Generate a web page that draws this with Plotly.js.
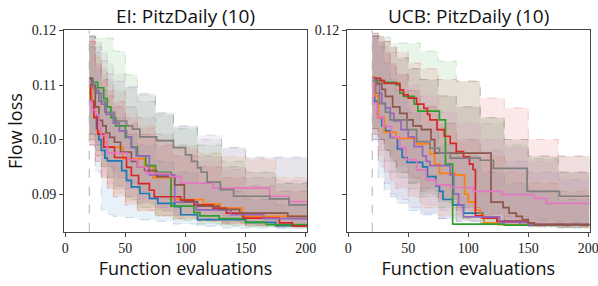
<!DOCTYPE html>
<html><head><meta charset="utf-8">
<script src="https://cdn.plot.ly/plotly-3.0.1.min.js"></script>
<style>html,body{margin:0;padding:0;background:#fff}#chart{width:598px;height:286px}</style>
</head><body><div id="chart"></div>
<script>
// ---- data ----
const seriesNames = ['blue','orange','green','red','purple','brown','pink','gray'];
const seriesColors = ['31,119,180','255,127,14','44,160,44','214,39,40','148,103,189','140,86,75','227,119,194','127,127,127'];
const xTicks = [0,50,100,150,200];
const yTicks = [0.09,0.10,0.11,0.12];
const initSamples = 20;
const bandX = [20,25,30,35,40,50,60,75,90,110,130,150,175,201];

// EI medians
const eiX_blue = [20,22,24,26,28,30,33,35,47,51,55,62,70,77,91,96,110,150,175,201];
const eiY_blue = [0.1085,0.107,0.1045,0.102,0.100,0.098,0.0966,0.0961,0.0943,0.0925,0.0913,0.0901,0.0892,0.0883,0.0877,0.0862,0.0853,0.0848,0.0842,0.0842];
const eiX_orange = [20,22,25,28,32,35,48,66,73,88,115,129,147,201];
const eiY_orange = [0.1095,0.107,0.104,0.101,0.0995,0.0986,0.0965,0.095,0.093,0.089,0.0882,0.0874,0.0859,0.0859];
const eiX_green = [20,23,27,32,35,38,42,50,55,60,67,75,88,107,112,128,150,167,201];
const eiY_green = [0.1112,0.1105,0.1095,0.1075,0.106,0.104,0.1025,0.1004,0.0986,0.097,0.0952,0.094,0.0878,0.0866,0.086,0.0855,0.0848,0.0844,0.0844];
const eiX_red = [20,21,24,27,32,41,51,55,61,70,74,96,107,123,134,148,178,189,201];
const eiY_red = [0.110,0.107,0.104,0.101,0.0986,0.0967,0.0949,0.0934,0.0919,0.0907,0.0895,0.0889,0.088,0.0874,0.0865,0.0856,0.0847,0.0841,0.0841];
const eiX_purple = [20,23,26,30,34,40,45,51,55,59,70,91,109,138,165,201];
const eiY_purple = [0.111,0.1095,0.1085,0.1065,0.1046,0.103,0.1016,0.1005,0.0985,0.097,0.0935,0.0885,0.0871,0.0862,0.0855,0.0855];
const eiX_brown = [20,22,25,28,31,34,37,41,46,55,60,66,76,91,99,110,128,145,185,201];
const eiY_brown = [0.1112,0.110,0.106,0.1035,0.1025,0.1012,0.1004,0.0995,0.0977,0.096,0.095,0.0943,0.0932,0.0917,0.0886,0.0878,0.0872,0.0865,0.0859,0.0859];
const eiX_pink = [20,22,25,28,30,35,52,60,67,87,96,123,170,186,201];
const eiY_pink = [0.107,0.1055,0.1046,0.102,0.1007,0.0975,0.0963,0.095,0.0938,0.0932,0.092,0.0911,0.0896,0.0886,0.0886];
const eiX_gray = [20,24,28,33,41,51,56,62,76,90,100,105,110,113,118,129,140,170,186,201];
const eiY_gray = [0.1105,0.109,0.107,0.105,0.1034,0.1025,0.1019,0.1005,0.0998,0.0985,0.0972,0.096,0.0948,0.094,0.0922,0.0908,0.0896,0.0891,0.088,0.088];

// EI bands (on bandX)
const eiLo_blue = [0.099,0.094,0.0871,0.0862,0.0859,0.0857,0.0853,0.0850,0.0845,0.0841,0.0838,0.0838,0.0837,0.0837];
const eiHi_blue = [0.117,0.113,0.109,0.106,0.104,0.101,0.099,0.096,0.094,0.092,0.0905,0.089,0.088,0.0875];
const eiLo_orange = [0.100,0.097,0.093,0.091,0.090,0.0885,0.087,0.086,0.0855,0.085,0.0845,0.0842,0.084,0.0838];
const eiHi_orange = [0.118,0.115,0.112,0.109,0.107,0.104,0.1025,0.100,0.0985,0.0975,0.0968,0.0963,0.093,0.093];
const eiLo_green = [0.101,0.098,0.095,0.093,0.091,0.089,0.0875,0.086,0.0852,0.0845,0.0842,0.084,0.0838,0.0836];
const eiHi_green = [0.1188,0.1186,0.1186,0.1186,0.1162,0.1119,0.1082,0.1049,0.1020,0.0990,0.0960,0.094,0.092,0.091];
const eiLo_red = [0.099,0.096,0.093,0.091,0.0895,0.088,0.087,0.086,0.0855,0.085,0.0845,0.0842,0.084,0.0838];
const eiHi_red = [0.118,0.114,0.111,0.108,0.106,0.103,0.101,0.099,0.097,0.095,0.093,0.0915,0.0905,0.090];
const eiLo_purple = [0.101,0.099,0.097,0.095,0.093,0.091,0.089,0.0875,0.0862,0.0855,0.085,0.0845,0.0842,0.084];
const eiHi_purple = [0.119,0.117,0.1145,0.112,0.1107,0.1097,0.1085,0.1048,0.1024,0.1008,0.0985,0.0966,0.0966,0.0966];
const eiLo_brown = [0.100,0.097,0.095,0.093,0.0915,0.0895,0.0882,0.087,0.086,0.0852,0.0847,0.0843,0.0841,0.0839];
const eiHi_brown = [0.119,0.116,0.113,0.111,0.109,0.106,0.104,0.101,0.099,0.097,0.095,0.093,0.092,0.0915];
const eiLo_pink = [0.099,0.096,0.0935,0.092,0.091,0.0895,0.0885,0.0875,0.0868,0.086,0.0855,0.085,0.0848,0.0845];
const eiHi_pink = [0.118,0.114,0.111,0.109,0.107,0.104,0.102,0.100,0.098,0.096,0.0945,0.094,0.0925,0.092];
const eiLo_gray = [0.101,0.099,0.097,0.095,0.094,0.092,0.0905,0.089,0.088,0.087,0.086,0.0855,0.085,0.0848];
const eiHi_gray = [0.119,0.118,0.116,0.114,0.112,0.1095,0.107,0.1045,0.1025,0.100,0.0985,0.0968,0.0968,0.0968];

// UCB medians
const ucbX_blue = [20,22,25,28,31,35,41,45,49,62,66,73,76,79,87,96,112,124,143,201];
const ucbY_blue = [0.111,0.107,0.104,0.1025,0.1016,0.1004,0.0983,0.0967,0.0958,0.095,0.0932,0.0915,0.0905,0.089,0.088,0.0865,0.0856,0.085,0.0844,0.0844];
const ucbX_orange = [20,22,25,30,40,57,68,72,76,89,97,100,106,110,113,125,201];
const ucbY_orange = [0.1115,0.108,0.104,0.1013,0.1002,0.0992,0.0973,0.0955,0.0938,0.0935,0.090,0.0885,0.087,0.0862,0.0847,0.0844,0.0844];
const ucbX_green = [20,22,30,40,43,46,55,58,76,81,87,130,201];
const ucbY_green = [0.1112,0.1108,0.1105,0.110,0.1085,0.1079,0.1065,0.1052,0.1036,0.0955,0.0845,0.0843,0.0843];
const ucbX_red = [20,27,30,43,46,50,57,63,66,68,74,80,85,90,96,101,104,106,112,124,150,201];
const ucbY_red = [0.1112,0.1108,0.1103,0.1091,0.1082,0.1076,0.1065,0.1057,0.1046,0.1036,0.1018,0.1006,0.0993,0.0978,0.0968,0.0955,0.0945,0.086,0.0856,0.085,0.0844,0.0844];
const ucbX_purple = [20,23,26,28,31,35,38,44,50,55,62,65,68,85,88,92,96,126,150,201];
const ucbY_purple = [0.1112,0.110,0.1085,0.1067,0.1058,0.1048,0.1034,0.1018,0.1005,0.0987,0.097,0.096,0.0952,0.0935,0.090,0.088,0.0858,0.0848,0.0844,0.0844];
const ucbX_brown = [20,24,28,31,37,43,49,54,61,69,72,119,129,134,140,145,150,155,201];
const ucbY_brown = [0.1112,0.1103,0.1092,0.1079,0.106,0.1048,0.1036,0.1025,0.1018,0.100,0.0975,0.0885,0.0875,0.0865,0.0859,0.0853,0.0847,0.0844,0.0844];
const ucbX_pink = [20,21,24,29,36,43,48,57,65,73,85,104,128,155,165,201];
const ucbY_pink = [0.1112,0.1066,0.1042,0.1024,0.1005,0.0985,0.0963,0.0944,0.0926,0.0917,0.0912,0.0905,0.0899,0.0892,0.0883,0.0883];
const ucbX_gray = [20,23,26,31,35,49,57,68,76,85,110,121,149,176,201];
const ucbY_gray = [0.1108,0.1085,0.1066,0.105,0.1036,0.1018,0.0996,0.0984,0.0975,0.0966,0.0962,0.0947,0.0905,0.0896,0.0896];

// UCB bands (on bandX)
const ucbLo_blue = [0.100,0.093,0.0907,0.0895,0.0883,0.087,0.0862,0.0855,0.085,0.0845,0.0842,0.084,0.0838,0.0837];
const ucbHi_blue = [0.119,0.117,0.114,0.111,0.109,0.105,0.102,0.099,0.097,0.094,0.092,0.0905,0.089,0.0885];
const ucbLo_orange = [0.101,0.096,0.094,0.0925,0.091,0.0895,0.0875,0.086,0.0852,0.0845,0.0842,0.084,0.0838,0.0837];
const ucbHi_orange = [0.119,0.118,0.116,0.114,0.112,0.109,0.106,0.103,0.100,0.097,0.094,0.092,0.0905,0.090];
const ucbLo_green = [0.102,0.100,0.098,0.096,0.094,0.092,0.090,0.0875,0.0855,0.0845,0.0842,0.084,0.0838,0.0837];
const ucbHi_green = [0.1195,0.119,0.1188,0.1177,0.1177,0.1177,0.1162,0.1144,0.1107,0.104,0.099,0.0965,0.094,0.093];
const ucbLo_red = [0.102,0.100,0.098,0.0965,0.095,0.093,0.091,0.089,0.087,0.0855,0.0848,0.0843,0.084,0.0838];
const ucbHi_red = [0.1195,0.119,0.118,0.117,0.116,0.114,0.113,0.111,0.1107,0.1076,0.1058,0.100,0.097,0.095];
const ucbLo_purple = [0.100,0.095,0.092,0.090,0.089,0.0875,0.0865,0.0855,0.085,0.0845,0.0842,0.084,0.0838,0.0837];
const ucbHi_purple = [0.119,0.118,0.116,0.114,0.112,0.109,0.106,0.103,0.100,0.098,0.096,0.094,0.0926,0.0926];
const ucbLo_brown = [0.102,0.100,0.098,0.096,0.094,0.092,0.0905,0.089,0.0875,0.0862,0.0852,0.0845,0.0841,0.0839];
const ucbHi_brown = [0.119,0.119,0.118,0.117,0.115,0.113,0.111,0.108,0.106,0.104,0.100,0.097,0.094,0.093];
const ucbLo_pink = [0.101,0.097,0.094,0.092,0.091,0.0895,0.088,0.087,0.0862,0.0855,0.085,0.0848,0.0846,0.0845];
const ucbHi_pink = [0.119,0.118,0.116,0.114,0.112,0.110,0.108,0.105,0.103,0.100,0.0985,0.096,0.094,0.093];
const ucbLo_gray = [0.101,0.098,0.096,0.094,0.093,0.091,0.0895,0.0885,0.0875,0.0865,0.0858,0.0852,0.0848,0.0845];
const ucbHi_gray = [0.119,0.118,0.117,0.116,0.115,0.113,0.111,0.108,0.106,0.103,0.100,0.0969,0.0969,0.0969];

// ---- build ----
const EI = {
  X:[eiX_blue,eiX_orange,eiX_green,eiX_red,eiX_purple,eiX_brown,eiX_pink,eiX_gray],
  Y:[eiY_blue,eiY_orange,eiY_green,eiY_red,eiY_purple,eiY_brown,eiY_pink,eiY_gray],
  Lo:[eiLo_blue,eiLo_orange,eiLo_green,eiLo_red,eiLo_purple,eiLo_brown,eiLo_pink,eiLo_gray],
  Hi:[eiHi_blue,eiHi_orange,eiHi_green,eiHi_red,eiHi_purple,eiHi_brown,eiHi_pink,eiHi_gray]};
const UCB = {
  X:[ucbX_blue,ucbX_orange,ucbX_green,ucbX_red,ucbX_purple,ucbX_brown,ucbX_pink,ucbX_gray],
  Y:[ucbY_blue,ucbY_orange,ucbY_green,ucbY_red,ucbY_purple,ucbY_brown,ucbY_pink,ucbY_gray],
  Lo:[ucbLo_blue,ucbLo_orange,ucbLo_green,ucbLo_red,ucbLo_purple,ucbLo_brown,ucbLo_pink,ucbLo_gray],
  Hi:[ucbHi_blue,ucbHi_orange,ucbHi_green,ucbHi_red,ucbHi_purple,ucbHi_brown,ucbHi_pink,ucbHi_gray]};

const traces = [];
function addPanel(P, xa, ya){
  seriesNames.forEach((n,i)=>{
    const c = seriesColors[i];
    traces.push({x:bandX, y:P.Lo[i], xaxis:xa, yaxis:ya, mode:'lines', line:{shape:'hv', width:1, dash:'dash', color:'rgba('+c+',0.22)'}, showlegend:false, hoverinfo:'skip'});
    traces.push({x:bandX, y:P.Hi[i], xaxis:xa, yaxis:ya, mode:'lines', fill:'tonexty', fillcolor:'rgba('+c+',0.1)', line:{shape:'hv', width:1, dash:'dash', color:'rgba('+c+',0.22)'}, showlegend:false, hoverinfo:'skip'});
  });
  seriesNames.forEach((n,i)=>{
    traces.push({x:P.X[i], y:P.Y[i], xaxis:xa, yaxis:ya, mode:'lines', name:n, line:{shape:'hv', width:1.7, color:'rgb('+seriesColors[i]+')'}, showlegend:false});
  });
}
addPanel(EI,'x','y');
addPanel(UCB,'x2','y2');

const tickFont = {family:'Liberation Serif, serif', size:14, color:'#222'};
const titleFont = {family:'Open Sans, sans-serif', size:18, color:'#111'};
const headFont = {family:'Open Sans, sans-serif', size:19, color:'#111'};
const axBase = {showgrid:false, zeroline:false, showline:true, mirror:true, linecolor:'#444', linewidth:1,
  ticks:'outside', ticklen:4, tickcolor:'#444', tickfont:tickFont, ticklabeloverflow:'allow'};
const yB = 0.19, yT = 0.8934;
const layout = {
  width:598, height:286, margin:{l:0,r:0,t:0,b:0}, paper_bgcolor:'#fff', plot_bgcolor:'#fff',
  xaxis: Object.assign({}, axBase, {domain:[64/598, 307/598], range:[-1,201], tickvals:xTicks, anchor:'y',
     title:{text:'Function evaluations', font:titleFont, standoff:1}}),
  yaxis: Object.assign({}, axBase, {domain:[yB,yT], range:[0.0831,0.12], tickvals:yTicks, ticktext:['0.09','0.10','0.11','0.12'], anchor:'x',
     title:{text:'Flow loss', font:titleFont, standoff:4}}),
  xaxis2: Object.assign({}, axBase, {domain:[347/598, 589.5/598], range:[-1,201], tickvals:xTicks, anchor:'y2',
     title:{text:'Function evaluations', font:titleFont, standoff:1}}),
  yaxis2: Object.assign({}, axBase, {domain:[yB,yT], range:[0.0831,0.12], tickvals:yTicks, ticktext:['','','','0.12'], anchor:'x2'}),
  shapes:[
    {type:'line', xref:'x', yref:'y domain', x0:initSamples, x1:initSamples, y0:0, y1:1, line:{color:'#b0b0b0', width:1, dash:'dash'}},
    {type:'line', xref:'x2', yref:'y2 domain', x0:initSamples, x1:initSamples, y0:0, y1:1, line:{color:'#b0b0b0', width:1, dash:'dash'}}
  ],
  annotations:[
    {text:'EI: PitzDaily (10)', xref:'paper', yref:'paper', x:(64+307)/2/598, y:yT, yanchor:'bottom', xanchor:'center', showarrow:false, font:headFont, yshift:-1},
    {text:'UCB: PitzDaily (10)', xref:'paper', yref:'paper', x:(347+589.5)/2/598, y:yT, yanchor:'bottom', xanchor:'center', showarrow:false, font:headFont, yshift:-1}
  ]
};
Plotly.newPlot('chart', traces, layout, {staticPlot:true, displayModeBar:false});
</script></body></html>
